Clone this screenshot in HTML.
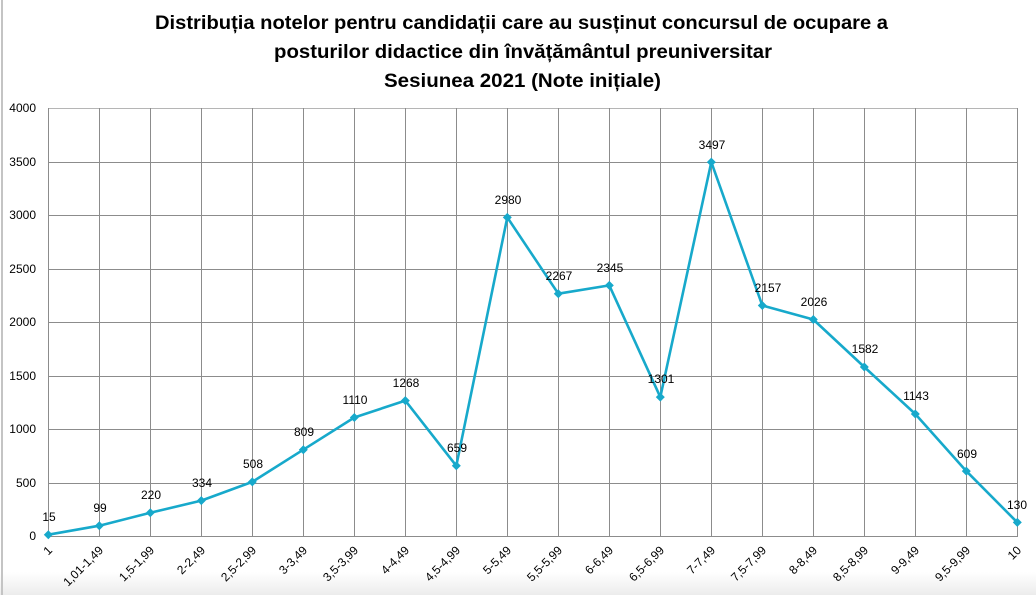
<!DOCTYPE html>
<html><head><meta charset="utf-8">
<style>
html,body{margin:0;padding:0;background:#fff;}
svg{display:block;}
</style></head>
<body>
<svg width="1036" height="595" viewBox="0 0 1036 595" xmlns="http://www.w3.org/2000/svg">
<defs>
<linearGradient id="bg" x1="0" y1="0" x2="0" y2="1">
<stop offset="0" stop-color="#ffffff"/>
<stop offset="1" stop-color="#ececec"/>
</linearGradient>
</defs>
<rect x="0" y="0" width="1036" height="595" fill="#fff"/>
<rect x="0" y="572" width="1036" height="23" fill="url(#bg)"/>
<line x1="2" y1="0" x2="2" y2="595" stroke="#c4c4c4" stroke-width="2"/>

<g font-family="'Liberation Sans', Arial, sans-serif" font-weight="bold" fill="#000" text-anchor="middle" font-size="19">
<text x="521.5" y="29" textLength="733" lengthAdjust="spacingAndGlyphs">Distribuția notelor pentru candidații care au susținut concursul de ocupare a</text>
<text x="523" y="58" textLength="498" lengthAdjust="spacingAndGlyphs">posturilor didactice din învățământul preuniversitar</text>
<text x="522.5" y="87" textLength="277" lengthAdjust="spacingAndGlyphs">Sesiunea 2021 (Note inițiale)</text>
</g>

<g stroke="#8c8c8c" stroke-width="1" shape-rendering="crispEdges">
<line x1="48" y1="108.5" x2="1017.5" y2="108.5" stroke="#b5b5b5"/>
<line x1="48" y1="162.5" x2="1017.5" y2="162.5"/>
<line x1="48" y1="215.5" x2="1017.5" y2="215.5"/>
<line x1="48" y1="269.5" x2="1017.5" y2="269.5"/>
<line x1="48" y1="322.5" x2="1017.5" y2="322.5"/>
<line x1="48" y1="376.5" x2="1017.5" y2="376.5"/>
<line x1="48" y1="429.5" x2="1017.5" y2="429.5"/>
<line x1="48" y1="483.5" x2="1017.5" y2="483.5"/>
<line x1="48" y1="536.5" x2="1017.5" y2="536.5"/>
<line x1="48.5" y1="108" x2="48.5" y2="537"/>
<line x1="99.5" y1="108" x2="99.5" y2="537"/>
<line x1="150.5" y1="108" x2="150.5" y2="537"/>
<line x1="201.5" y1="108" x2="201.5" y2="537"/>
<line x1="252.5" y1="108" x2="252.5" y2="537"/>
<line x1="303.5" y1="108" x2="303.5" y2="537"/>
<line x1="354.5" y1="108" x2="354.5" y2="537"/>
<line x1="405.5" y1="108" x2="405.5" y2="537"/>
<line x1="456.5" y1="108" x2="456.5" y2="537"/>
<line x1="507.5" y1="108" x2="507.5" y2="537"/>
<line x1="558.5" y1="108" x2="558.5" y2="537"/>
<line x1="609.5" y1="108" x2="609.5" y2="537"/>
<line x1="660.5" y1="108" x2="660.5" y2="537"/>
<line x1="711.5" y1="108" x2="711.5" y2="537"/>
<line x1="762.5" y1="108" x2="762.5" y2="537"/>
<line x1="813.5" y1="108" x2="813.5" y2="537"/>
<line x1="864.5" y1="108" x2="864.5" y2="537"/>
<line x1="915.5" y1="108" x2="915.5" y2="537"/>
<line x1="966.5" y1="108" x2="966.5" y2="537"/>
<line x1="1017.5" y1="108" x2="1017.5" y2="537"/>
</g>

<g font-family="'Liberation Sans', Arial, sans-serif" font-size="12" fill="#000" text-anchor="end">
<text x="36" y="112">4000</text>
<text x="36" y="166">3500</text>
<text x="36" y="219">3000</text>
<text x="36" y="273">2500</text>
<text x="36" y="326">2000</text>
<text x="36" y="380">1500</text>
<text x="36" y="433">1000</text>
<text x="36" y="487">500</text>
<text x="36" y="540">0</text>
</g>

<polyline fill="none" stroke="#17a9cb" stroke-width="2.6" stroke-linejoin="round" points="48.3,534.7 99.3,525.7 150.3,512.8 201.3,500.6 252.3,481.9 303.3,449.7 354.3,417.5 405.3,400.6 456.3,465.8 507.3,217.4 558.3,293.7 609.3,285.4 660.3,397.1 711.3,162.1 762.3,305.5 813.3,319.5 864.3,367.0 915.3,414.0 966.3,471.1 1017.3,522.4"/>

<g fill="#17a9cb">
<path d="M48.3,530.2 l4.5,4.5 l-4.5,4.5 l-4.5,-4.5z"/>
<path d="M99.3,521.2 l4.5,4.5 l-4.5,4.5 l-4.5,-4.5z"/>
<path d="M150.3,508.3 l4.5,4.5 l-4.5,4.5 l-4.5,-4.5z"/>
<path d="M201.3,496.1 l4.5,4.5 l-4.5,4.5 l-4.5,-4.5z"/>
<path d="M252.3,477.4 l4.5,4.5 l-4.5,4.5 l-4.5,-4.5z"/>
<path d="M303.3,445.2 l4.5,4.5 l-4.5,4.5 l-4.5,-4.5z"/>
<path d="M354.3,413.0 l4.5,4.5 l-4.5,4.5 l-4.5,-4.5z"/>
<path d="M405.3,396.1 l4.5,4.5 l-4.5,4.5 l-4.5,-4.5z"/>
<path d="M456.3,461.3 l4.5,4.5 l-4.5,4.5 l-4.5,-4.5z"/>
<path d="M507.3,212.9 l4.5,4.5 l-4.5,4.5 l-4.5,-4.5z"/>
<path d="M558.3,289.2 l4.5,4.5 l-4.5,4.5 l-4.5,-4.5z"/>
<path d="M609.3,280.9 l4.5,4.5 l-4.5,4.5 l-4.5,-4.5z"/>
<path d="M660.3,392.6 l4.5,4.5 l-4.5,4.5 l-4.5,-4.5z"/>
<path d="M711.3,157.6 l4.5,4.5 l-4.5,4.5 l-4.5,-4.5z"/>
<path d="M762.3,301.0 l4.5,4.5 l-4.5,4.5 l-4.5,-4.5z"/>
<path d="M813.3,315.0 l4.5,4.5 l-4.5,4.5 l-4.5,-4.5z"/>
<path d="M864.3,362.5 l4.5,4.5 l-4.5,4.5 l-4.5,-4.5z"/>
<path d="M915.3,409.5 l4.5,4.5 l-4.5,4.5 l-4.5,-4.5z"/>
<path d="M966.3,466.6 l4.5,4.5 l-4.5,4.5 l-4.5,-4.5z"/>
<path d="M1017.3,517.9 l4.5,4.5 l-4.5,4.5 l-4.5,-4.5z"/>
</g>

<g font-family="'Liberation Sans', Arial, sans-serif" font-size="12" fill="#000" text-anchor="middle">
<text x="49" y="521">15</text>
<text x="100" y="512">99</text>
<text x="151" y="499">220</text>
<text x="202" y="487">334</text>
<text x="253" y="468">508</text>
<text x="304" y="436">809</text>
<text x="355" y="404">1110</text>
<text x="406" y="387">1268</text>
<text x="457" y="452">659</text>
<text x="508" y="204">2980</text>
<text x="559" y="280">2267</text>
<text x="610" y="272">2345</text>
<text x="661" y="383">1301</text>
<text x="712" y="149">3497</text>
<text x="768" y="292">2157</text>
<text x="814" y="306">2026</text>
<text x="865" y="353">1582</text>
<text x="916" y="400">1143</text>
<text x="967" y="458">609</text>
<text x="1017" y="509">130</text>
</g>

<g font-family="'Liberation Sans', Arial, sans-serif" font-size="12" fill="#000" text-anchor="end">
<text transform="translate(50,548) rotate(-45)" dy="0.35em">1</text>
<text transform="translate(101,548) rotate(-45)" dy="0.35em">1,01-1,49</text>
<text transform="translate(152,548) rotate(-45)" dy="0.35em">1,5-1,99</text>
<text transform="translate(203,548) rotate(-45)" dy="0.35em">2-2,49</text>
<text transform="translate(254,548) rotate(-45)" dy="0.35em">2,5-2,99</text>
<text transform="translate(305,548) rotate(-45)" dy="0.35em">3-3,49</text>
<text transform="translate(356,548) rotate(-45)" dy="0.35em">3,5-3,99</text>
<text transform="translate(407,548) rotate(-45)" dy="0.35em">4-4,49</text>
<text transform="translate(458,548) rotate(-45)" dy="0.35em">4,5-4,99</text>
<text transform="translate(509,548) rotate(-45)" dy="0.35em">5-5,49</text>
<text transform="translate(560,548) rotate(-45)" dy="0.35em">5,5-5,99</text>
<text transform="translate(611,548) rotate(-45)" dy="0.35em">6-6,49</text>
<text transform="translate(662,548) rotate(-45)" dy="0.35em">6,5-6,99</text>
<text transform="translate(713,548) rotate(-45)" dy="0.35em">7-7,49</text>
<text transform="translate(764,548) rotate(-45)" dy="0.35em">7,5-7,99</text>
<text transform="translate(815,548) rotate(-45)" dy="0.35em">8-8,49</text>
<text transform="translate(866,548) rotate(-45)" dy="0.35em">8,5-8,99</text>
<text transform="translate(917,548) rotate(-45)" dy="0.35em">9-9,49</text>
<text transform="translate(968,548) rotate(-45)" dy="0.35em">9,5-9,99</text>
<text transform="translate(1019,548) rotate(-45)" dy="0.35em">10</text>
</g>
</svg>
</body></html>
